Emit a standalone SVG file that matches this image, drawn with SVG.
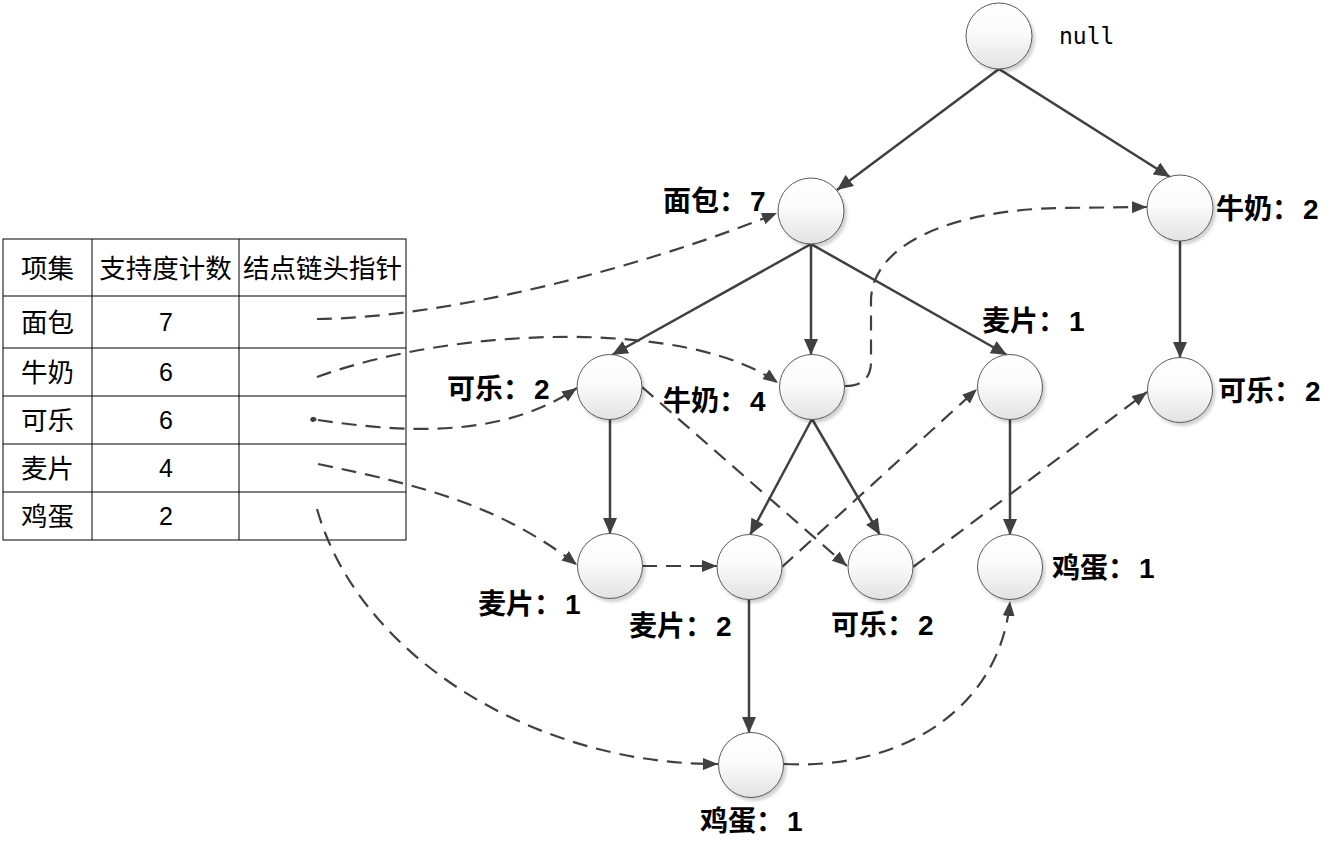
<svg xmlns="http://www.w3.org/2000/svg" width="1339" height="859" viewBox="0 0 1339 859">
<defs>
<style>
.node{fill:url(#g);stroke:#5a5a5a;stroke-width:1;filter:url(#sh)}
.lbl{font-family:"Liberation Sans","Noto Sans CJK SC",sans-serif;font-weight:bold;font-size:28px;fill:#000}
.tt{font-family:"Liberation Sans","Noto Sans CJK SC",sans-serif;font-size:26.5px;fill:#000;text-anchor:middle}
.tn{font-family:"Liberation Sans","Noto Sans CJK SC",sans-serif;font-size:25px;fill:#000;text-anchor:middle}
.solid{fill:none;stroke:#404040;stroke-width:2.5;marker-end:url(#ah)}
.dash{fill:none;stroke:#404040;stroke-width:2.2;stroke-dasharray:15 9;marker-end:url(#ah2)}
.grid{fill:none;stroke:#000;stroke-width:1}
</style>
<linearGradient id="g" x1="0" y1="0" x2="0" y2="1">
<stop offset="0" stop-color="#ffffff"/>
<stop offset="0.45" stop-color="#fbfbfb"/>
<stop offset="1" stop-color="#e2e2e2"/>
</linearGradient>
<filter id="sh" x="-30%" y="-30%" width="160%" height="160%">
<feDropShadow dx="2.5" dy="3" stdDeviation="1.5" flood-color="#000" flood-opacity="0.18"/>
</filter>
<marker id="ah" viewBox="0 0 16 14" refX="16" refY="7" markerWidth="16" markerHeight="14" markerUnits="userSpaceOnUse" orient="auto">
<path d="M0,0 L16,7 L0,14 Z" fill="#404040"/>
</marker>
<marker id="ah2" viewBox="0 0 15 12" refX="15" refY="6" markerWidth="15" markerHeight="12" markerUnits="userSpaceOnUse" orient="auto">
<path d="M0,0 L15,6 L0,12 Z" fill="#404040"/>
</marker>
</defs>
<rect width="1339" height="859" fill="#fff"/>

<g id="table">
<rect class="grid" x="3" y="239" width="403" height="301"/>
<line class="grid" x1="92" y1="239" x2="92" y2="540"/>
<line class="grid" x1="239" y1="239" x2="239" y2="540"/>
<line class="grid" x1="3" y1="296" x2="406" y2="296"/>
<line class="grid" x1="3" y1="348" x2="406" y2="348"/>
<line class="grid" x1="3" y1="396" x2="406" y2="396"/>
<line class="grid" x1="3" y1="444" x2="406" y2="444"/>
<line class="grid" x1="3" y1="492" x2="406" y2="492"/>
<text class="tt" x="47.5" y="278">项集</text>
<text class="tt" x="165.5" y="278">支持度计数</text>
<text class="tt" x="322.5" y="278">结点链头指针</text>
<text class="tt" x="47.5" y="332">面包</text>
<text class="tn" x="166" y="331">7</text>
<text class="tt" x="47.5" y="382">牛奶</text>
<text class="tn" x="166" y="381">6</text>
<text class="tt" x="47.5" y="430">可乐</text>
<text class="tn" x="166" y="429">6</text>
<text class="tt" x="47.5" y="478">麦片</text>
<text class="tn" x="166" y="477">4</text>
<text class="tt" x="47.5" y="526">鸡蛋</text>
<text class="tn" x="166" y="525">2</text>
</g>

<g id="connectors">
<path class="solid" d="M999,69 L837,190"/>
<path class="solid" d="M999,69 L1170,177"/>
<path class="solid" d="M811,244 L612,355"/>
<path class="solid" d="M811,244 L811,355"/>
<path class="solid" d="M811,244 L1007,355"/>
<path class="solid" d="M1180,240 L1180,358"/>
<path class="solid" d="M610,419 L610,534"/>
<path class="solid" d="M812,419 L750,535"/>
<path class="solid" d="M812,419 L880,535"/>
<path class="solid" d="M1010,419 L1010,535"/>
<path class="solid" d="M749,599 L749,733"/>

<path class="dash" d="M317,319 C450,318 650,265 777,213"/>
<path class="dash" d="M317,377 C460,325 690,320 778,383"/>
<path d="M316,419 C313,416 309,419 312,421 C314,422 316,420 316,419" fill="#404040" stroke="#404040" stroke-width="1.5"/>
<path class="dash" d="M318,420 C400,432 500,440 577,388"/>
<path class="dash" d="M318,464 C420,485 500,505 577,565"/>
<path class="dash" d="M317,509 C360,660 540,765 718,764"/>
<path class="dash" d="M642,566 L717,566"/>
<path class="dash" d="M782,567 L977,389"/>
<path class="dash" d="M642,387 L847,566"/>
<path class="dash" d="M913,567 L1147,392"/>
<path class="dash" d="M845,386 C862,386 871,378 871,362 L871,300 C872,245 950,210 1060,208 L1147,207"/>
<path class="dash" d="M784,764 C900,770 1000,710 1010,601"/>
</g>

<g id="n-null">
<circle class="node" cx="999" cy="36" r="33"/>
<text x="1059" y="44" font-family="'DejaVu Sans Mono','Liberation Mono',monospace" font-size="23" fill="#000">null</text>
</g>
<g id="n-bread7">
<circle class="node" cx="811" cy="211" r="33"/>
<text class="lbl" x="663" y="211">面包：<tspan dx="3">7</tspan></text>
</g>
<g id="n-milk2">
<circle class="node" cx="1180" cy="208" r="33"/>
<text class="lbl" x="1216" y="219">牛奶：<tspan dx="3">2</tspan></text>
</g>
<g id="n-cola2a">
<circle class="node" cx="609.5" cy="387" r="32.5"/>
<text class="lbl" x="447" y="399">可乐：<tspan dx="3">2</tspan></text>
</g>
<g id="n-milk4">
<circle class="node" cx="812" cy="387" r="32.5"/>
<text class="lbl" x="663" y="411">牛奶：<tspan dx="3">4</tspan></text>
</g>
<g id="n-oat1a">
<circle class="node" cx="1010" cy="387" r="32.5"/>
<text class="lbl" x="982" y="331">麦片：<tspan dx="3">1</tspan></text>
</g>
<g id="n-cola2b">
<circle class="node" cx="1180" cy="390" r="32.5"/>
<text class="lbl" x="1218" y="401">可乐：<tspan dx="3">2</tspan></text>
</g>
<g id="n-oat1b">
<circle class="node" cx="610" cy="566" r="32.5"/>
<text class="lbl" x="478" y="614">麦片：<tspan dx="3">1</tspan></text>
</g>
<g id="n-oat2">
<circle class="node" cx="749.5" cy="567" r="32.5"/>
<text class="lbl" x="629" y="636">麦片：<tspan dx="3">2</tspan></text>
</g>
<g id="n-cola2c">
<circle class="node" cx="880.5" cy="567" r="32.5"/>
<text class="lbl" x="831" y="635">可乐：<tspan dx="3">2</tspan></text>
</g>
<g id="n-egg1a">
<circle class="node" cx="1010" cy="567" r="32.5"/>
<text class="lbl" x="1052" y="578">鸡蛋：<tspan dx="3">1</tspan></text>
</g>
<g id="n-egg1b">
<circle class="node" cx="751" cy="765" r="32.5"/>
<text class="lbl" x="700" y="831">鸡蛋：<tspan dx="3">1</tspan></text>
</g>
</svg>
